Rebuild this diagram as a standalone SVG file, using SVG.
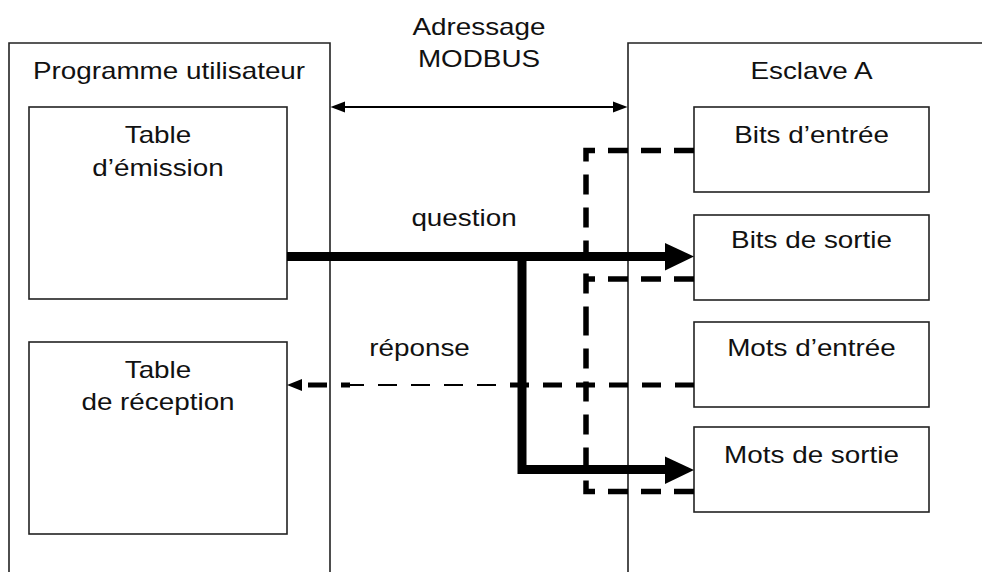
<svg xmlns="http://www.w3.org/2000/svg" width="982" height="572" viewBox="0 0 982 572">
<style>
.box{fill:#fff;stroke:#222;stroke-width:1.6}
.frame{fill:none;stroke:#222;stroke-width:1.6}
.t{font-family:"Liberation Sans",Arial,sans-serif;font-size:24px;fill:#111;text-anchor:middle}
.thick{fill:none;stroke:#000;stroke-width:9}
.dash{fill:none;stroke:#000;stroke-width:5.5;stroke-dasharray:20 13}
.thin{fill:none;stroke:#000;stroke-width:2;stroke-dasharray:19 14}
.head{fill:#000}
</style>
<rect width="982" height="572" fill="#fff"/>
<g id="programme-utilisateur">
<path class="frame" d="M9,572 V43 H330 V572"/>
<text class="t" transform="translate(169,79) scale(1.16,1)">Programme utilisateur</text>
</g>
<g id="esclave-a">
<path class="frame" d="M628,572 V43 H982"/>
<text class="t" transform="translate(811.5,79) scale(1.16,1)">Esclave A</text>
</g>
<g id="table-emission">
<rect class="box" x="29" y="107" width="258" height="192"/>
<text class="t" transform="translate(158,143) scale(1.16,1)">Table</text>
<text class="t" transform="translate(158,176) scale(1.16,1)">d’émission</text>
</g>
<g id="table-reception">
<rect class="box" x="29" y="342" width="258" height="192"/>
<text class="t" transform="translate(158,378) scale(1.16,1)">Table</text>
<text class="t" transform="translate(158,410) scale(1.16,1)">de réception</text>
</g>
<g id="bits-entree">
<rect class="box" x="694" y="107" width="235" height="85"/>
<text class="t" transform="translate(811.5,143) scale(1.16,1)">Bits d’entrée</text>
</g>
<g id="bits-sortie">
<rect class="box" x="694" y="215" width="235" height="85"/>
<text class="t" transform="translate(811.5,248) scale(1.16,1)">Bits de sortie</text>
</g>
<g id="mots-entree">
<rect class="box" x="694" y="322" width="235" height="85"/>
<text class="t" transform="translate(811.5,356) scale(1.16,1)">Mots d’entrée</text>
</g>
<g id="mots-sortie">
<rect class="box" x="694" y="427" width="235" height="85"/>
<text class="t" transform="translate(811.5,463) scale(1.16,1)">Mots de sortie</text>
</g>
<g id="connectors">
<!-- MODBUS addressing double arrow -->
<line x1="343" y1="107" x2="615" y2="107" stroke="#000" stroke-width="1.8"/>
<polygon class="head" points="330.5,107 345,101.5 345,112.5"/>
<polygon class="head" points="627.5,107 613,101.5 613,112.5"/>
<!-- dashed slave-side links -->
<path class="dash" d="M694,150.5 H586 V320"/>
<path class="dash" d="M694,491.5 H586 V320"/>
<path class="dash" d="M694,279 H586"/>
<!-- question arrows -->
<path class="thick" d="M287,256.5 H668"/>
<polygon class="head" points="665,243 694,256.5 665,270.5"/>
<path class="thick" d="M522,252 V469.5 H668"/>
<polygon class="head" points="665,456.5 694,470 665,484"/>
<!-- réponse dashed arrow -->
<line x1="694" y1="385" x2="509" y2="385" stroke="#000" stroke-width="5" stroke-dasharray="19 14"/>
<line x1="510" y1="385" x2="341" y2="385" class="thin" stroke-dashoffset="19"/>
<line x1="350" y1="385" x2="341" y2="385" stroke="#000" stroke-width="5"/>
<line x1="327" y1="385" x2="308" y2="385" stroke="#000" stroke-width="5"/>
<polygon class="head" points="287,385 302,379 302,391"/>
</g>
<g id="labels">
<text class="t" transform="translate(479,35) scale(1.16,1)">Adressage</text>
<text class="t" transform="translate(479,67) scale(1.16,1)">MODBUS</text>
<text class="t" transform="translate(464,226) scale(1.16,1)">question</text>
<text class="t" transform="translate(419.5,356) scale(1.16,1)">réponse</text>
</g>
</svg>
